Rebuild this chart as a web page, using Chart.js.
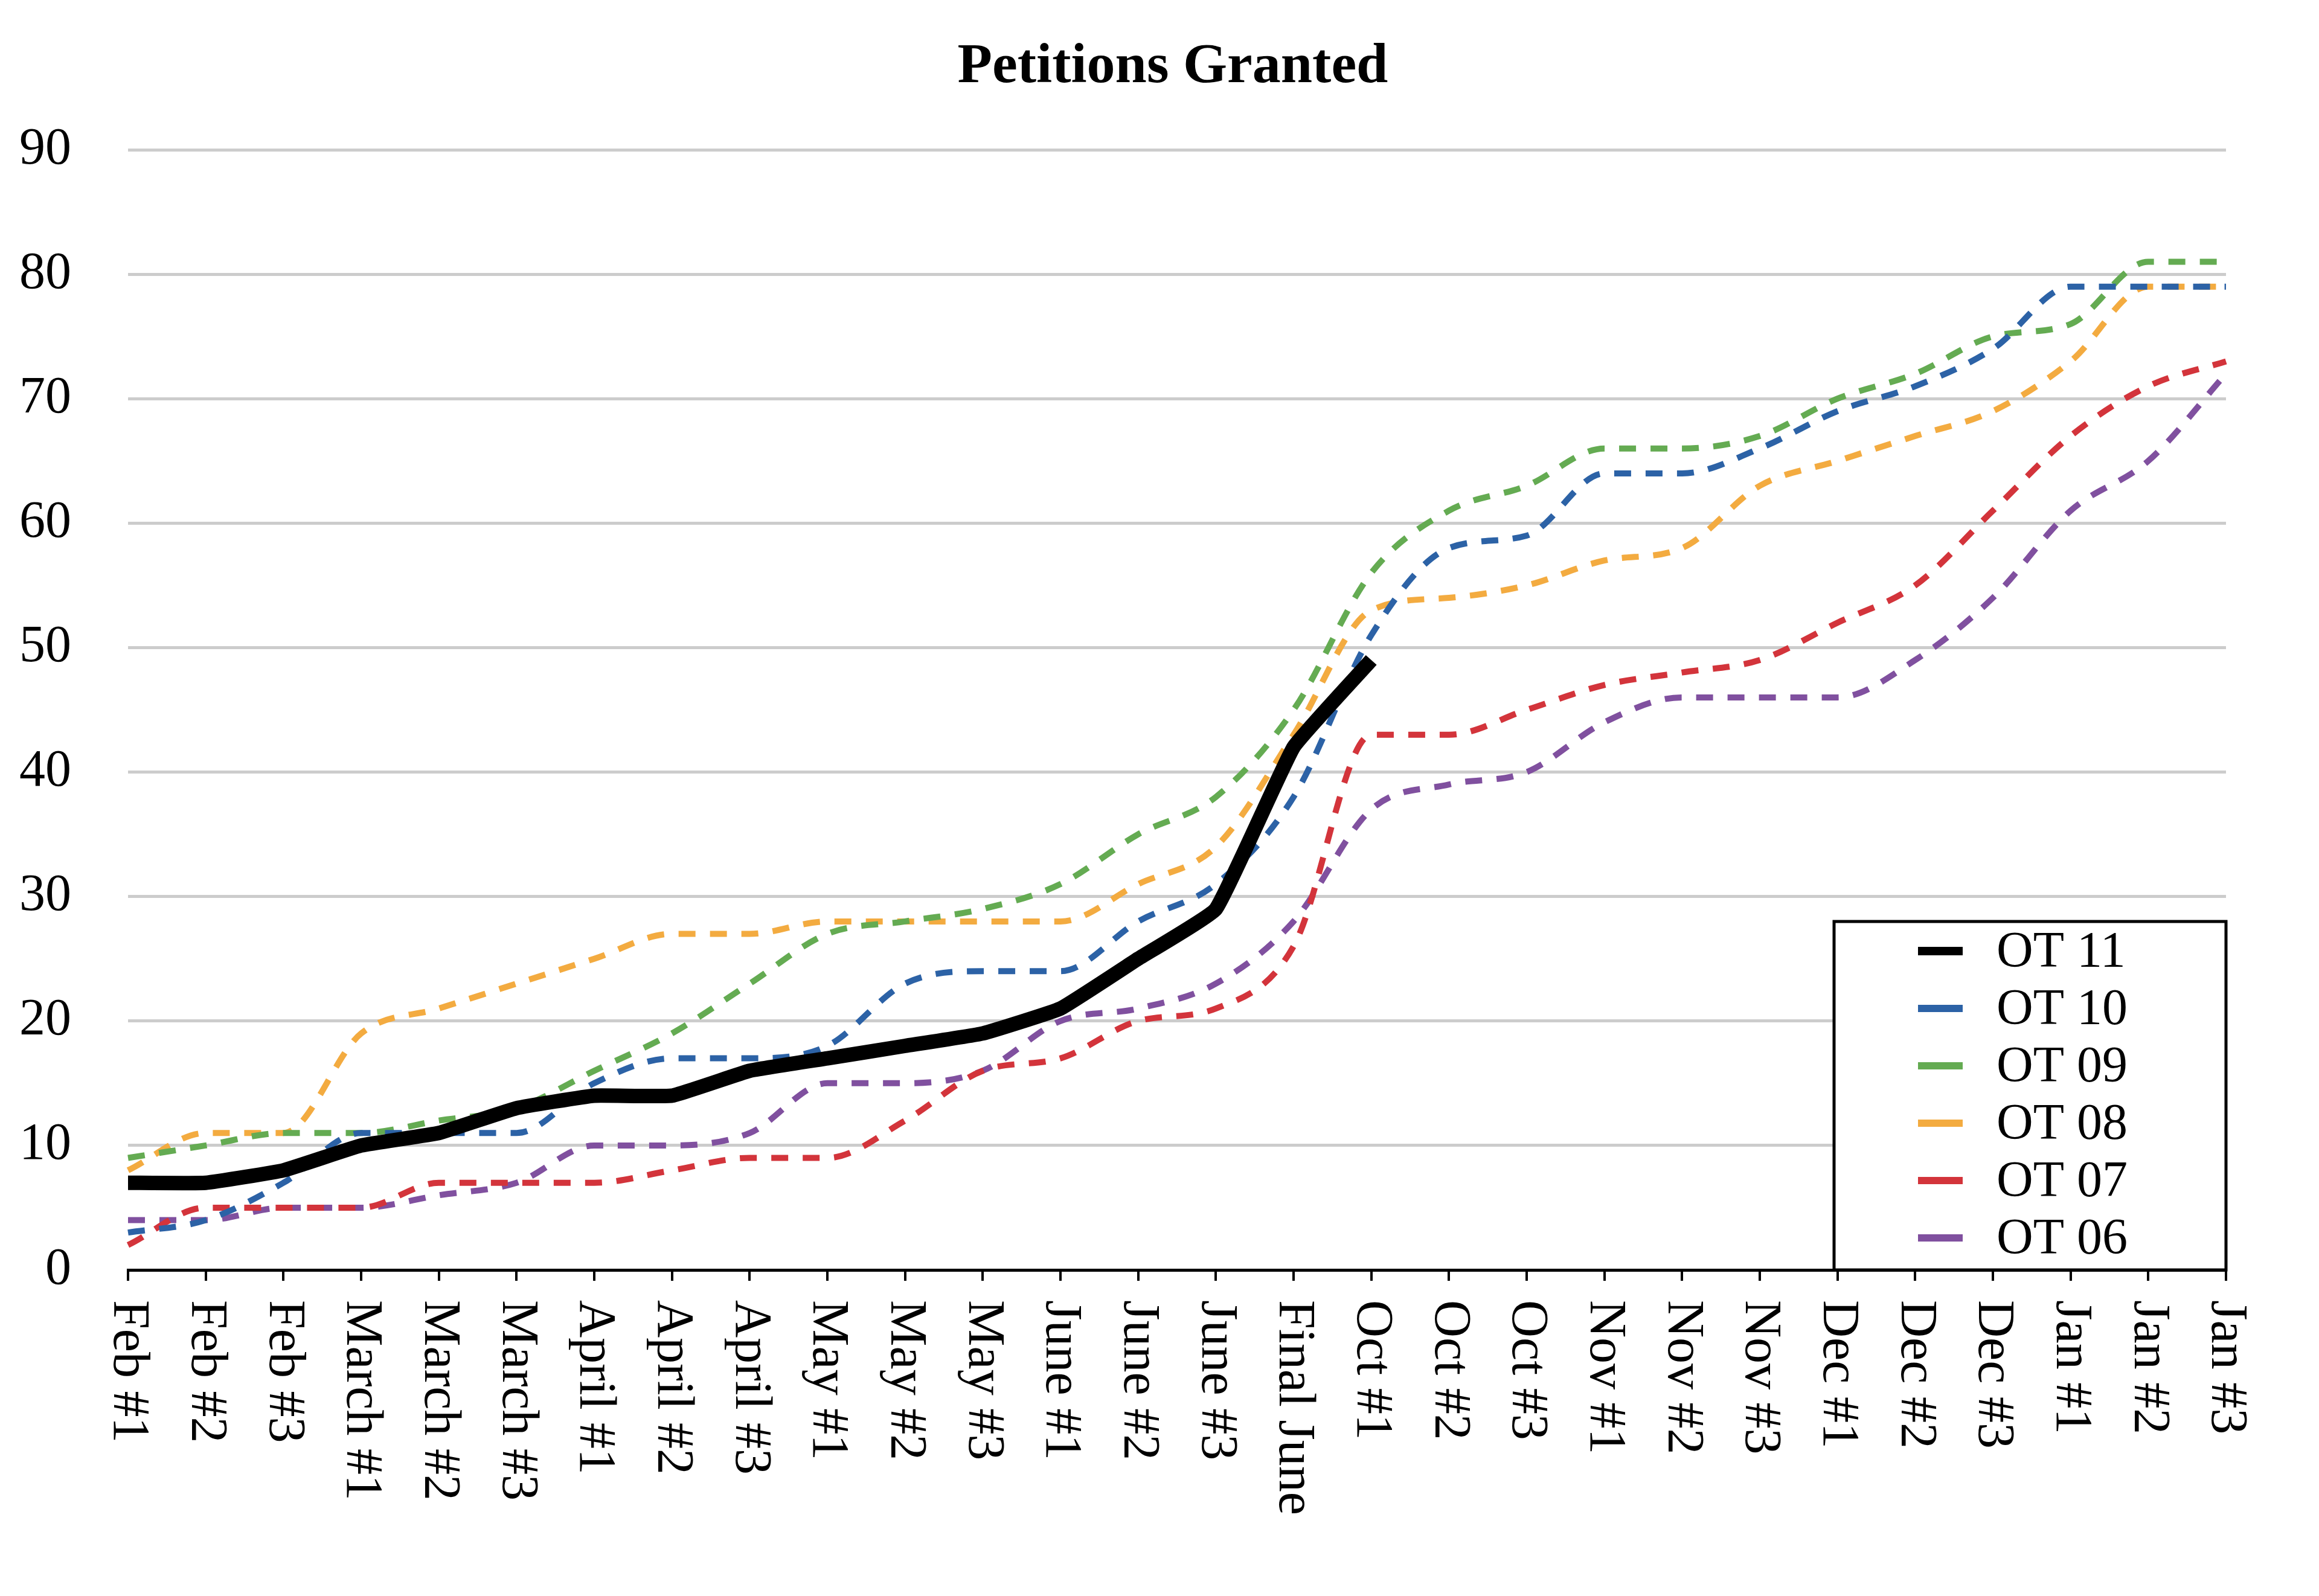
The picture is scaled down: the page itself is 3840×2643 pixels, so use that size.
<!DOCTYPE html>
<html>
<head>
<meta charset="utf-8">
<script src="https://cdn.jsdelivr.net/npm/chart.js@4.4.1/dist/chart.umd.min.js"></script>
<style>
  html, body { margin: 0; padding: 0; background: #ffffff; }
  #wrap { width: 3840px; height: 2643px; }
  canvas { display: block; }
</style>
</head>
<body>
<div id="wrap"><canvas id="c" width="3840" height="2643"></canvas></div>
<script>
const chartTitle = 'Petitions Granted';
const categories = ['Feb #1','Feb #2','Feb #3','March #1','March #2','March #3','April #1','April #2','April #3','May #1','May #2','May #3','June #1','June #2','June #3','Final June','Oct #1','Oct #2','Oct #3','Nov #1','Nov #2','Nov #3','Dec #1','Dec #2','Dec #3','Jan #1','Jan #2','Jan #3'];
const seriesNames = ['OT 11','OT 10','OT 09','OT 08','OT 07','OT 06'];
const ot11 = [7,7,8,10,11,13,14,14,16,17,18,19,21,25,29,42,49];
const ot10 = [3,4,7,11,11,11,15,17,17,18,23,24,24,28,31,38,51,58,59,64,64,66,69,71,74,79,79,79];
const ot09 = [9,10,11,11,12,13,16,19,23,27,28,29,31,35,38,45,56,61,63,66,66,67,70,72,75,76,81,81];
const ot08 = [8,11,11,19,21,23,25,27,27,28,28,28,28,31,34,43,53,54,55,57,58,63,65,67,69,73,79,79];
const ot07 = [2,5,5,5,7,7,7,8,9,9,12,16,17,20,21,26,43,43,45,47,48,49,52,55,61,67,71,73];
const ot06 = [4,4,5,5,6,7,10,10,11,15,15,16,20,21,23,28,37,39,40,44,46,46,46,49,54,61,65,72];
const yTicks = [0,10,20,30,40,50,60,70,80,90];

const colors = ['#000000','#2c62a6','#64ab52','#f3ab40','#d3343b','#80509f'];
const seriesData = [ot11, ot10, ot09, ot08, ot07, ot06];

const SERIF = '"Liberation Serif", "DejaVu Serif", serif';

const datasets = seriesData.map((d, i) => {
  const solid = i === 0;
  return {
    label: seriesNames[i],
    data: d,
    borderColor: colors[i],
    backgroundColor: colors[i],
    borderWidth: solid ? 24 : 10,
    borderDash: solid ? [] : [28, 24],
    borderCapStyle: 'butt',
    borderJoinStyle: 'round',
    pointRadius: 0,
    pointHoverRadius: 0,
    fill: false,
    cubicInterpolationMode: solid ? 'default' : 'monotone',
    tension: solid ? 0.1 : 0
  };
});

const overlay = {
  id: 'overlay',
  afterDraw(chart) {
    const ctx = chart.ctx;
    const xs = chart.scales.x;
    const area = chart.chartArea;
    ctx.save();
    // title
    ctx.fillStyle = '#000';
    ctx.font = 'bold 94px ' + SERIF;
    ctx.textAlign = 'center';
    ctx.textBaseline = 'middle';
    ctx.fillText(chartTitle, (area.left + area.right) / 2 - 7, 112);
    // x labels rotated clockwise
    ctx.font = '86px ' + SERIF;
    ctx.textAlign = 'left';
    ctx.textBaseline = 'middle';
    categories.forEach((lab, i) => {
      const x = xs.getPixelForTick(i);
      ctx.save();
      ctx.translate(x, area.bottom + 50);
      ctx.rotate(Math.PI / 2);
      ctx.fillText(lab, 0, 0);
      ctx.restore();
    });
    // legend
    const bx = 3037, by = 1526, bw = 649, bh = 577;
    ctx.fillStyle = '#ffffff';
    ctx.fillRect(bx, by, bw, bh);
    ctx.lineWidth = 5;
    ctx.strokeStyle = '#000';
    ctx.strokeRect(bx, by, bw, bh);
    ctx.font = '84px ' + SERIF;
    ctx.textAlign = 'left';
    ctx.textBaseline = 'middle';
    chart.data.datasets.forEach((ds, i) => {
      const cy = 1575 + i * 95;
      ctx.strokeStyle = ds.borderColor;
      ctx.lineWidth = i === 0 ? 14 : 12;
      ctx.lineCap = 'butt';
      ctx.beginPath();
      ctx.moveTo(3176, cy);
      ctx.lineTo(3250, cy);
      ctx.stroke();
      ctx.fillStyle = '#000';
      ctx.fillText(ds.label, 3306, cy + 4);
    });
    ctx.restore();
  }
};

new Chart(document.getElementById('c'), {
  type: 'line',
  data: { labels: categories, datasets },
  plugins: [overlay],
  options: {
    responsive: false,
    devicePixelRatio: 1,
    animation: false,
    layout: { padding: { top: 248, right: 154, bottom: 540, left: 0 } },
    plugins: {
      legend: { display: false },
      title: { display: false },
      tooltip: { enabled: false }
    },
    scales: {
      x: {
        type: 'category',
        offset: false,
        afterFit(s) { s.height = 0; },
        ticks: { display: false },
        grid: {
          display: true,
          drawOnChartArea: false,
          drawTicks: true,
          tickLength: 18,
          color: '#000',
          lineWidth: 4
        },
        border: { display: true, color: '#000', width: 5 }
      },
      y: {
        min: 0,
        max: 90,
        afterFit(s) { s.width = 212; },
        afterBuildTicks(s) { s.ticks = yTicks.map(v => ({ value: v })); },
        ticks: {
          padding: 94,
          color: '#000',
          font: { family: SERIF, size: 86 }
        },
        grid: { color: '#cccccc', lineWidth: 5, drawTicks: false },
        border: { display: false }
      }
    }
  }
});
</script>
</body>
</html>
